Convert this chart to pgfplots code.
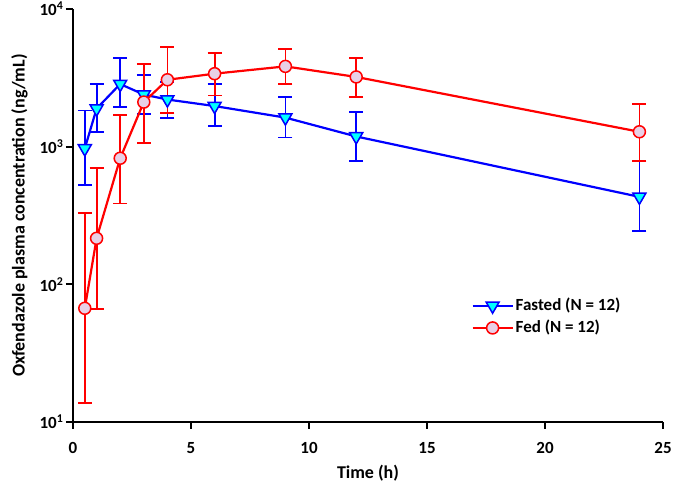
\documentclass[border=0pt]{standalone}
\usepackage{fontspec}
\setmainfont{Carlito}
\usepackage{pgfplots}
\usepackage{pgfplotstable}
\pgfplotsset{compat=1.18}
\definecolor{fblue}{RGB}{0,0,255}
\definecolor{fcyan}{RGB}{0,255,255}
\definecolor{fred}{RGB}{255,0,0}
\definecolor{fpink}{RGB}{232,208,230}
\pgfplotstableread{
t y up lo
0.5 970 1830 525
1 1890 2870 1283
2 2850 4390 1940
3 2390 3300 1718
4 2200 2950 1622
6 1973 2850 1415
9 1626 2290 1167
12 1186 1786 783
24 432 783 245
}\fasted
\pgfplotstableread{
t y up lo
0.5 67 331 13.7
1 216 702 66.4
2 824 1706 386
3 2108 3990 1062
4 3062 5270 1766
6 3390 4820 2350
9 3830 5120 2850
12 3210 4390 2300
24 1283 2050 787
}\fed
\begin{document}
\fontsize{17}{20}\selectfont\bfseries
\begin{tikzpicture}
\begin{axis}[
  name=ax,
  scale only axis,
  width=590pt, height=413pt,
  xmin=0, xmax=25, ymin=10, ymax=10000,
  ymode=log,
  axis lines=left,
  axis line style={-, line width=1.8pt},
  tick align=outside,
  major tick length=7pt,
  tick style={line width=1.8pt, black},
  yminorticks=false,
  xtick={0,5,10,15,20,25},
  ytick={10,100,1000,10000},
  yticklabels={10\textsuperscript{1},10\textsuperscript{2},10\textsuperscript{3},10\textsuperscript{4}},
  /pgf/number format/assume math mode=true,
  ticklabel style={font=\fontsize{17}{20}\selectfont\bfseries, inner sep=1pt},
  xticklabel style={yshift=-12pt},
  yticklabel style={xshift=-1.5pt},
  label style={font=\fontsize{18}{21}\selectfont\bfseries},
  xlabel={Time (h)},
  ylabel={Oxfendazole plasma concentration (ng/mL)},
  xlabel style={yshift=-5pt},
  ylabel shift=5pt,
  legend style={draw=none, fill=none, at={(0.67,0.31)}, anchor=north west,
    font=\fontsize{17}{20}\selectfont\bfseries, row sep=3pt},
  legend cell align=left,
  legend image code/.code={\draw[mark repeat=2,mark phase=2] plot coordinates {(0pt,0pt)(20pt,0pt)(40pt,0pt)};},
  error bars/y dir=both,
  error bars/y explicit,
  error bars/error bar style={line width=1.8pt},
  error bars/error mark options={line width=1.8pt, mark size=7pt, rotate=90},
  clip=false,
]
\addplot[color=fblue, line width=2.2pt, mark=triangle*,
  mark options={rotate=180, fill=fcyan, draw=fblue, line width=1.5pt, mark size=7.5pt}]
  table[x=t, y=y, y error plus expr=\thisrow{up}-\thisrow{y}, y error minus expr=\thisrow{y}-\thisrow{lo}] {\fasted};
\addlegendentry{Fasted (N = 12)}
\addplot[color=fred, line width=2.2pt, mark=*,
  mark options={fill=fpink, draw=fred, line width=1.5pt, mark size=6pt}]
  table[x=t, y=y, y error plus expr=\thisrow{up}-\thisrow{y}, y error minus expr=\thisrow{y}-\thisrow{lo}] {\fed};
\addlegendentry{Fed (N = 12)}
\end{axis}
\pgfresetboundingbox
\path[use as bounding box] ([xshift=-73pt,yshift=-65pt]ax.south west) rectangle ([xshift=12pt,yshift=9pt]ax.north east);
\end{tikzpicture}
\end{document}
